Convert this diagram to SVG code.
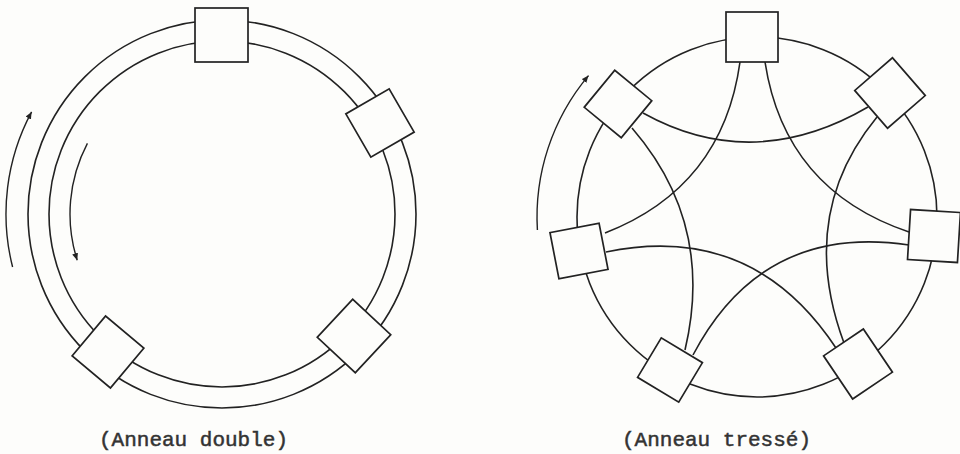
<svg xmlns="http://www.w3.org/2000/svg" width="960" height="454" viewBox="0 0 960 454">
  <defs>
    <marker id="ah" markerUnits="userSpaceOnUse" markerWidth="10" markerHeight="8" refX="7" refY="3" orient="auto">
      <path d="M0,0 L7,3 L0,6 Z" fill="#222"/>
    </marker>
    <style>
      .ln{fill:none;stroke:#222;stroke-width:1.6}
      .bx{fill:#fdfdfb;stroke:#222;stroke-width:1.7}
      .ar{fill:none;stroke:#222;stroke-width:1.4;marker-end:url(#ah)}
      .lbl{font-family:"Liberation Mono","DejaVu Sans Mono",monospace;font-size:21px;fill:#333;stroke:#333;stroke-width:0.5}
    </style>
  </defs>
  <rect width="960" height="454" fill="#fdfdfb"/>

  <!-- Left: double ring -->
  <g id="connectors-left">
    <circle class="ln" cx="222" cy="214" r="194"/>
    <circle class="ln" cx="222" cy="214" r="173"/>
    <path class="ar" d="M12.6,267 A216,216 0 0 1 31.6,111.9"/>
    <path class="ar" d="M87.4,143.4 A152,152 0 0 0 77.2,260.2"/>
  </g>
  <g id="L1"><rect class="bx" x="195" y="8" width="53" height="54"/></g>
  <g id="L2"><rect class="bx" x="-25" y="-25" width="50" height="50" transform="translate(380,123) rotate(-30)"/></g>
  <g id="L3"><rect class="bx" x="-26" y="-26" width="52" height="52" transform="translate(354,336) rotate(-47)"/></g>
  <g id="L4"><rect class="bx" x="-25" y="-26" width="50" height="52" transform="translate(108,352) rotate(40)"/></g>

  <!-- Right: braided ring -->
  <g id="connectors-right">
    <circle class="ln" cx="757" cy="217" r="180"/>
    <path class="ln" d="M740,62 Q722.7,187.2 605,233"/>
    <path class="ln" d="M765,62 Q784.7,190 909,232"/>
    <path class="ln" d="M643,113 Q753,174 868,107"/>
    <path class="ln" d="M632,128 Q714.9,223.9 685,350"/>
    <path class="ln" d="M877,117 Q796.6,214.9 844,343"/>
    <path class="ln" d="M606,252 Q752.5,221.6 836,348"/>
    <path class="ln" d="M693,355 Q762.3,223.2 909,245"/>
    <path class="ar" d="M537.4,230 A220,220 0 0 1 588.5,75.6"/>
  </g>
  <g id="R1"><rect class="bx" x="726" y="12" width="52" height="50"/></g>
  <g id="R2"><rect class="bx" x="-25" y="-25" width="50" height="50" transform="translate(890,93) rotate(-41)"/></g>
  <g id="R3"><rect class="bx" x="-25" y="-25" width="50" height="50" transform="translate(934,236) rotate(3.5)"/></g>
  <g id="R4"><rect class="bx" x="-24" y="-26" width="48" height="52" transform="translate(858,364) rotate(-34)"/></g>
  <g id="R5"><rect class="bx" x="-24" y="-23" width="48" height="46" transform="translate(670,370) rotate(31)"/></g>
  <g id="R6"><rect class="bx" x="-25" y="-23.5" width="50" height="47" transform="translate(579,251) rotate(-11)"/></g>
  <g id="R7"><rect class="bx" x="-24" y="-24" width="48" height="48" transform="translate(618,104) rotate(39.5)"/></g>

  <g id="labels">
    <text class="lbl" x="99" y="446">(Anneau double)</text>
    <text class="lbl" x="622" y="446">(Anneau tressé)</text>
  </g>
</svg>
